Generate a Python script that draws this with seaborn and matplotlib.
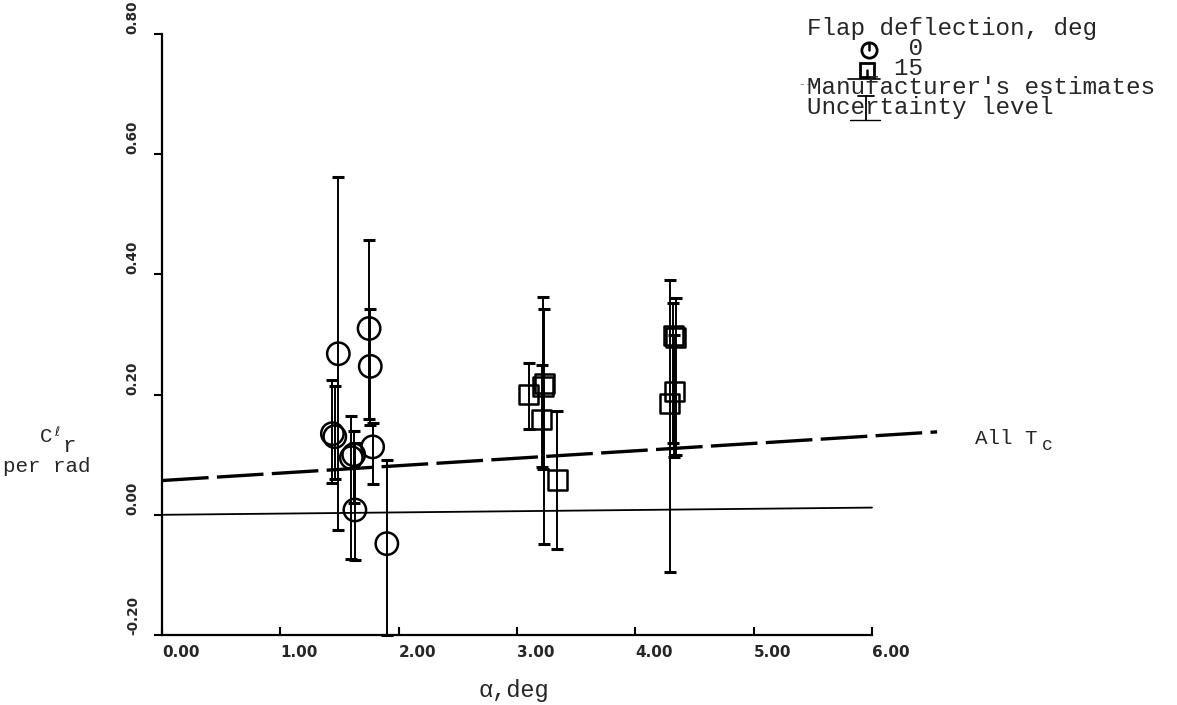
import numpy as np
import matplotlib
matplotlib.use("Agg")
import matplotlib.pyplot as plt
import seaborn as sns
from matplotlib.lines import Line2D

# ---------------- data ----------------
# Flap deflection 0 deg (circles)
alpha_f0 = [1.44, 1.46, 1.49, 1.60, 1.62, 1.63, 1.75, 1.76, 1.78, 1.90]
c_f0 = [0.135, 0.130, 0.268, 0.095, 0.100, 0.008, 0.310, 0.247, 0.113, -0.048]
lo_f0 = [0.053, 0.060, -0.025, -0.073, 0.020, -0.075, 0.160, 0.150, 0.052, -0.200]
hi_f0 = [0.225, 0.215, 0.562, 0.165, 0.140, 0.120, 0.458, 0.342, 0.153, 0.092]

# Flap deflection 15 deg (squares)
alpha_f15 = [3.10, 3.21, 3.22, 3.23, 3.34, 4.29, 4.32, 4.33, 4.34]
c_f15 = [0.200, 0.158, 0.213, 0.218, 0.058, 0.185, 0.298, 0.205, 0.295]
lo_f15 = [0.142, 0.080, 0.077, -0.048, -0.057, -0.095, 0.120, 0.097, 0.100]
hi_f15 = [0.253, 0.250, 0.362, 0.342, 0.172, 0.390, 0.353, 0.300, 0.360]

# Manufacturer's estimates (thin solid) and fairing for all Tc (dashed)
alpha_mfr = [0.0, 6.0]
c_mfr = [0.0, 0.012]
alpha_fair = [0.0, 6.55]
c_fair = [0.057, 0.138]

xticks = [0, 1, 2, 3, 4, 5, 6]
xticklabels = ["0.00", "1.00", "2.00", "3.00", "4.00", "5.00", "6.00"]
yticks = [-0.2, 0.0, 0.2, 0.4, 0.6, 0.8]
yticklabels = ["-0.20", "0.00", "0.20", "0.40", "0.60", "0.80"]

legend_title = "Flap deflection, deg"
flap_labels = ["0", "15"]
line_labels = ["Manufacturer's estimates", "Uncertainty level"]

# ---------------- style ----------------
sns.set_theme(style="white")
plt.rcParams["font.family"] = ["Liberation Mono", "DejaVu Sans Mono", "DejaVu Sans"]

W, H = 1177, 705
fig = plt.figure(figsize=(W / 100, H / 100), dpi=100)
fig.patch.set_facecolor("white")

def fx(px):
    return px / W

def fy(py):
    return 1 - py / H

ax = fig.add_axes([fx(162), fy(635), fx(872) - fx(162), fy(34) - fy(635)])
ax.set_facecolor("white")
ax.set_xlim(0, 6)
ax.set_ylim(-0.2, 0.8)

for s in ["top", "right"]:
    ax.spines[s].set_visible(False)
for s in ["left", "bottom"]:
    ax.spines[s].set_color("black")
    ax.spines[s].set_linewidth(1.6)

# lines
ax.plot(alpha_mfr, c_mfr, color="black", lw=1.3, clip_on=False, zorder=2)
ax.plot(alpha_fair, c_fair, color="black", lw=2.4, linestyle=(0, (14, 2.5)),
        clip_on=False, zorder=2)

# error bars
c0 = np.array(c_f0)
ax.errorbar(alpha_f0, c_f0, yerr=[c0 - np.array(lo_f0), np.array(hi_f0) - c0],
            fmt="none", ecolor="black", elinewidth=1.4, capsize=4, capthick=2.2,
            zorder=3, clip_on=False)
c15 = np.array(c_f15)
ax.errorbar(alpha_f15, c_f15, yerr=[c15 - np.array(lo_f15), np.array(hi_f15) - c15],
            fmt="none", ecolor="black", elinewidth=1.4, capsize=4, capthick=2.2,
            zorder=3, clip_on=False)

# markers
sns.scatterplot(x=alpha_f0, y=c_f0, marker="o", s=260, color="black",
                linewidth=1.8, ax=ax, zorder=4, legend=False)
ax.collections[-1].set_facecolor("none")
ax.collections[-1].set_edgecolor("black")
sns.scatterplot(x=alpha_f15, y=c_f15, marker="s", s=190, color="black",
                linewidth=1.8, ax=ax, zorder=4, legend=False)
ax.collections[-1].set_facecolor("none")
ax.collections[-1].set_edgecolor("black")

# ticks
ax.set_xticks(xticks)
ax.set_xticklabels(xticklabels, fontfamily="DejaVu Sans", fontweight="bold",
                   fontsize=11, ha="left")
ax.set_yticks(yticks)
ax.set_yticklabels(yticklabels, fontfamily="DejaVu Sans", fontweight="bold",
                   fontsize=9.8, rotation=90, va="bottom")
ax.tick_params(axis="x", direction="in", length=6, width=1.5, color="black",
               pad=7, bottom=True)
ax.tick_params(axis="y", direction="out", length=6, width=1.5, color="black",
               pad=10, left=True)
ax.grid(False)
ax.set_xlabel("")
ax.set_ylabel("")

# axis titles
fig.text(fx(514), fy(690), "\u03b1,deg", fontsize=17, ha="center", va="center",
         family=["Liberation Mono", "DejaVu Sans Mono"])
fig.text(fx(40), fy(437), "C", fontsize=15, ha="left", va="center")
fig.text(fx(54), fy(432), "\u2113", fontsize=9, ha="left", va="center",
         family=["DejaVu Sans"])
fig.text(fx(62), fy(447), "r", fontsize=16, ha="left", va="center")
fig.text(fx(3), fy(466), "per rad", fontsize=15, ha="left", va="center")

# curve label
fig.text(fx(975), fy(438), "All T", fontsize=15, ha="left", va="center")
fig.text(fx(1042), fy(446), "c", fontsize=13, ha="left", va="center")

# ---------------- legend ----------------
legend_text = "\n".join([
    legend_title,
    " " * 7 + flap_labels[0],
    " " * 6 + flap_labels[1],
    line_labels[0],
    line_labels[1],
])
fig.text(fx(807), fy(17), legend_text, fontsize=17.5, ha="left", va="top",
         linespacing=0.82)
fig.add_artist(Line2D([fx(869)], [fy(50)], marker="o", markersize=11,
                      markerfacecolor="none", markeredgecolor="black",
                      markeredgewidth=2, transform=fig.transFigure))
fig.add_artist(Line2D([fx(869), fx(869)], [fy(43), fy(50)], color="black", lw=1.8,
                      transform=fig.transFigure))
fig.add_artist(Line2D([fx(867)], [fy(70)], marker="s", markersize=10,
                      markerfacecolor="none", markeredgecolor="black",
                      markeredgewidth=2, transform=fig.transFigure))
fig.add_artist(Line2D([fx(867), fx(867)], [fy(70), fy(76)], color="black", lw=1.8,
                      transform=fig.transFigure))
fig.add_artist(Line2D([fx(848), fx(880)], [fy(79), fy(79)], color="black", lw=1.2,
                      transform=fig.transFigure))
fig.add_artist(Line2D([fx(800), fx(816)], [fy(84), fy(84)], color="#999999", lw=0.8,
                      linestyle=(0, (3, 3)), transform=fig.transFigure))
fig.add_artist(Line2D([fx(866), fx(866)], [fy(96), fy(120)], color="black", lw=1.3,
                      transform=fig.transFigure))
fig.add_artist(Line2D([fx(858), fx(874)], [fy(96), fy(96)], color="black", lw=1.3,
                      transform=fig.transFigure))
fig.add_artist(Line2D([fx(850), fx(880)], [fy(120), fy(120)], color="black", lw=1.0,
                      transform=fig.transFigure))

fig.savefig("out.png", dpi=100, facecolor="white")
